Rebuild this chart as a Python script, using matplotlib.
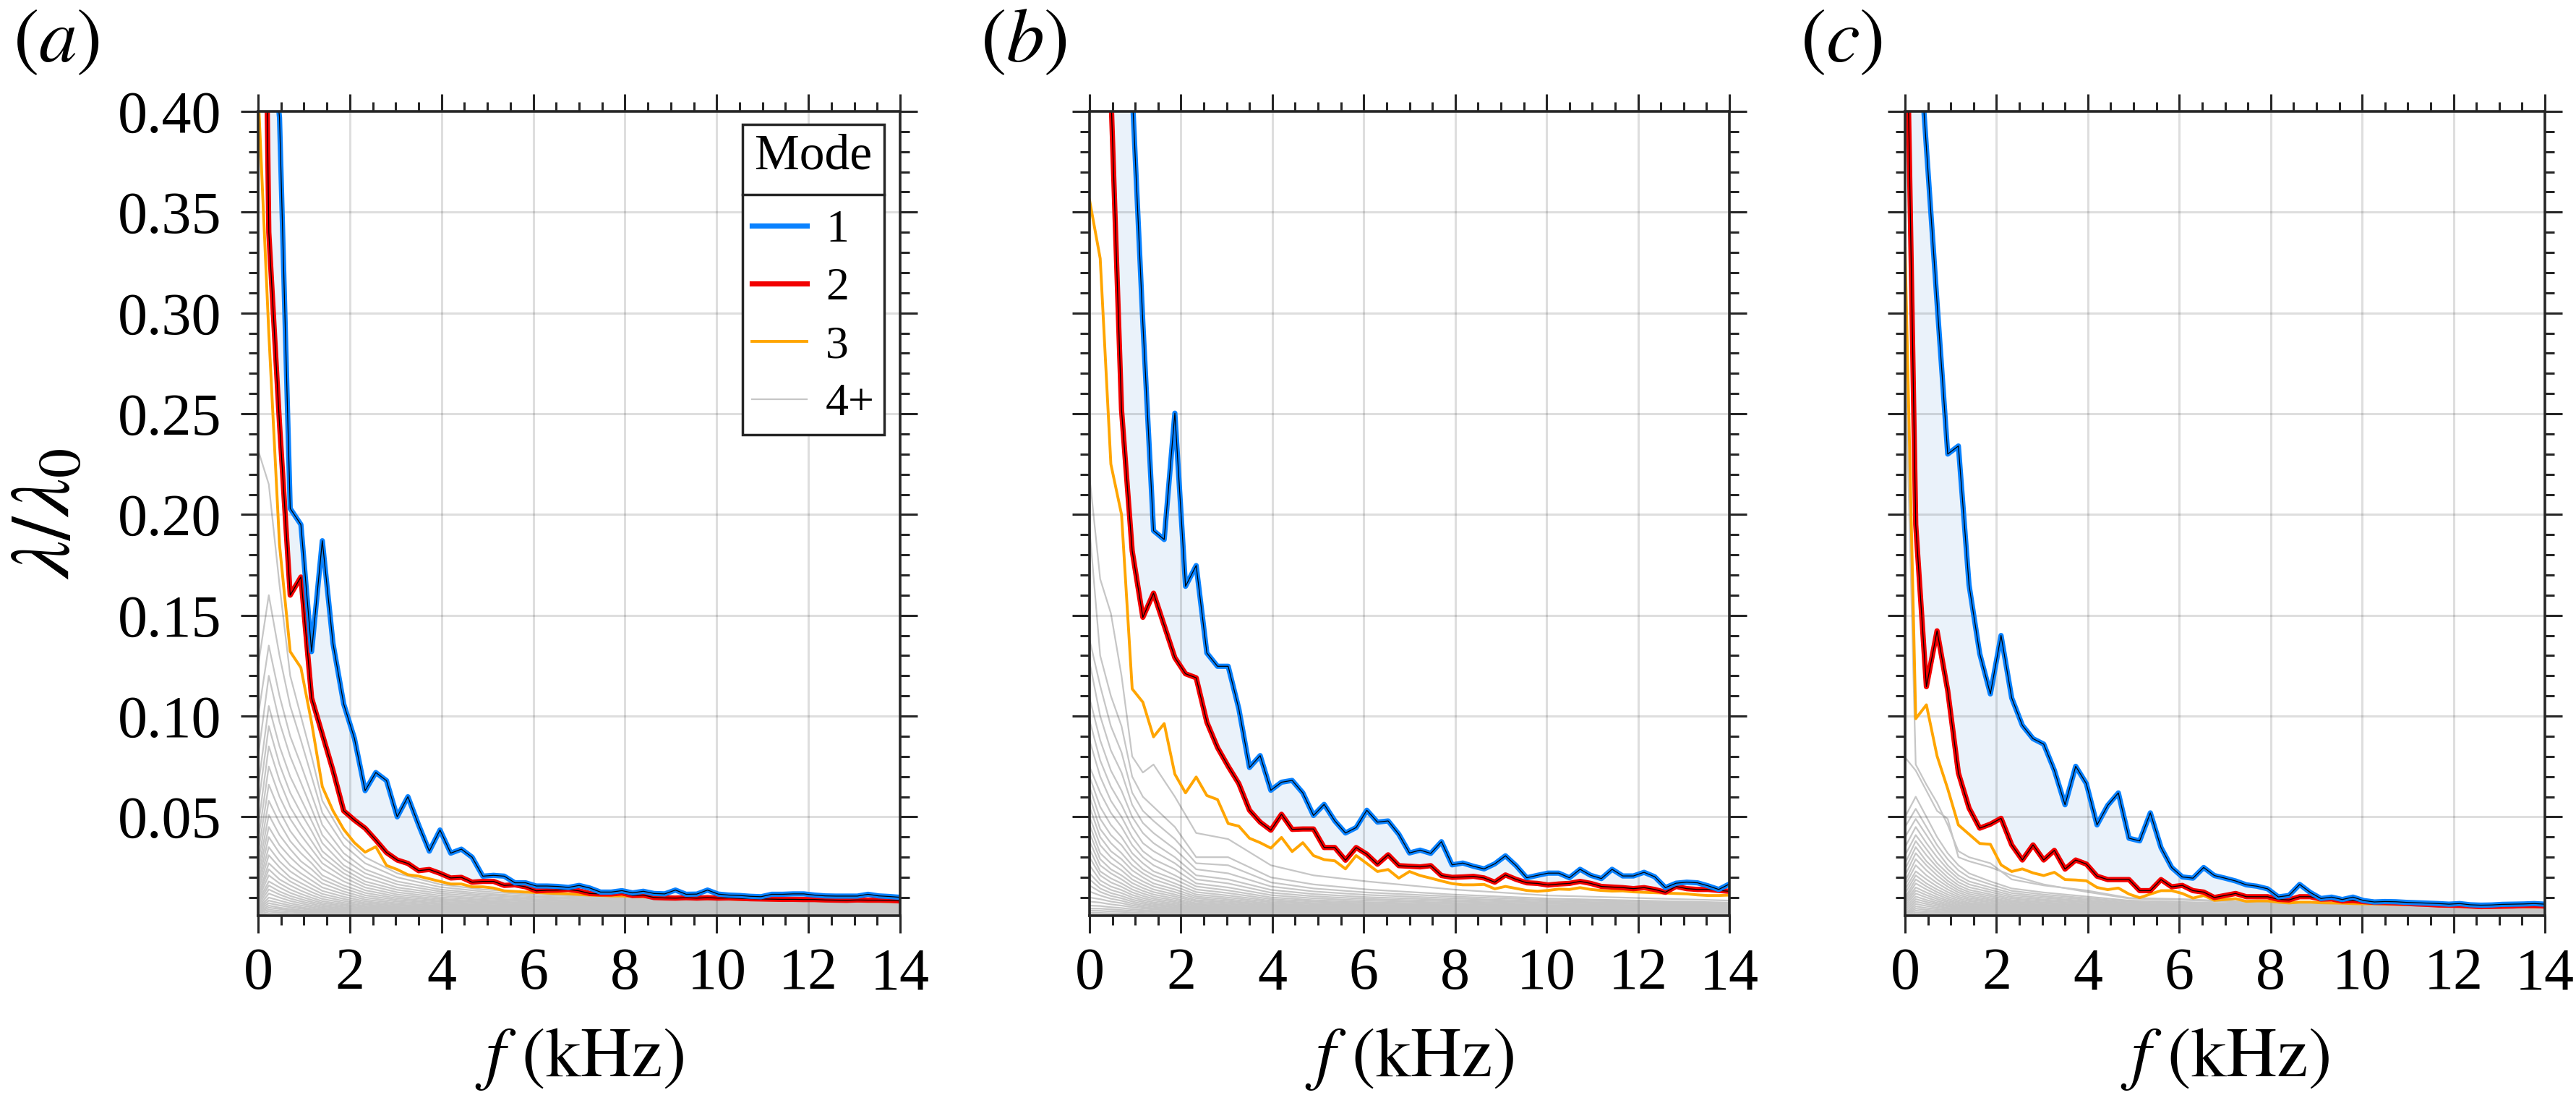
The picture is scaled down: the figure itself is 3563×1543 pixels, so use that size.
import numpy as np
import matplotlib
matplotlib.use('Agg')
import matplotlib.pyplot as plt
from matplotlib.lines import Line2D
from matplotlib.ticker import MultipleLocator, FixedLocator, FormatStrFormatter

plt.rcParams['font.family'] = ['Liberation Serif', 'DejaVu Serif']
plt.rcParams['mathtext.fontset'] = 'stix'

# ---------------- data ----------------
freq = np.linspace(0, 14, 61)  # kHz, 61 spectral bins

mode1_a = [0.90, 0.45, 0.397, 0.203, 0.195, 0.132, 0.187, 0.136, 0.106, 0.089,
           0.063, 0.072, 0.068, 0.050, 0.060, 0.046, 0.033, 0.0435, 0.032, 0.034,
           0.030, 0.0206, 0.021, 0.0206, 0.0173, 0.0173, 0.0157, 0.0157, 0.0155, 0.015,
           0.016, 0.0147, 0.0127, 0.0127, 0.0134, 0.0123, 0.0131, 0.012, 0.0118, 0.0137,
           0.0116, 0.0117, 0.0137, 0.0117, 0.0112, 0.011, 0.0106, 0.0104, 0.0116, 0.0116,
           0.0118, 0.0118, 0.0112, 0.0108, 0.0107, 0.0107, 0.0107, 0.0116, 0.0108, 0.0105, 0.0101]
mode2_a = [0.76, 0.34, 0.245, 0.160, 0.169, 0.109, 0.091, 0.073, 0.053, 0.0484,
           0.0444, 0.0385, 0.0323, 0.0286, 0.0269, 0.0233, 0.0239, 0.022, 0.0197, 0.020,
           0.0176, 0.018, 0.018, 0.016, 0.0163, 0.0153, 0.0133, 0.0136, 0.0137, 0.014,
           0.0133, 0.012, 0.0118, 0.0118, 0.0123, 0.011, 0.0112, 0.0100, 0.0098, 0.0097,
           0.0099, 0.0097, 0.0099, 0.0097, 0.0098, 0.0096, 0.0094, 0.0093, 0.0092, 0.0091,
           0.0091, 0.0090, 0.0090, 0.0088, 0.0087, 0.0086, 0.0088, 0.0087, 0.0087, 0.0086, 0.0083]
mode3_a = [0.41, 0.29, 0.185, 0.132, 0.124, 0.0967, 0.065, 0.053, 0.0438, 0.0372,
           0.0325, 0.0352, 0.0259, 0.0239, 0.0213, 0.0206, 0.0193, 0.018, 0.0167, 0.0167,
           0.0153, 0.0153, 0.0147, 0.0133, 0.013, 0.0127, 0.0125, 0.0122, 0.012, 0.0118,
           0.0115, 0.0112, 0.011, 0.0108, 0.0108, 0.0105, 0.0103, 0.0101, 0.0098, 0.0097,
           0.0095, 0.0094, 0.0093, 0.0093, 0.0092, 0.0091, 0.0090, 0.0089, 0.0088, 0.0087,
           0.0087, 0.0086, 0.0085, 0.0084, 0.0083, 0.0083, 0.0082, 0.0081, 0.0081, 0.0080, 0.0079]

mode1_b = [0.95, 0.80, 0.60, 0.48, 0.41, 0.295, 0.192, 0.1876, 0.2503, 0.1644,
           0.1747, 0.1313, 0.1247, 0.1247, 0.1036, 0.0745, 0.0804, 0.0632, 0.0672, 0.0681,
           0.0619, 0.0507, 0.0562, 0.048, 0.042, 0.0447, 0.0533, 0.0474, 0.048, 0.0414,
           0.0321, 0.0335, 0.0319, 0.0377, 0.0262, 0.0271, 0.0255, 0.0242, 0.0267, 0.0307,
           0.0258, 0.0198, 0.021, 0.0221, 0.0221, 0.0198, 0.024, 0.021, 0.0194, 0.024,
           0.0207, 0.0207, 0.0225, 0.0203, 0.0149, 0.0171, 0.0176, 0.0173, 0.0158, 0.014, 0.0167]
mode2_b = [0.90, 0.60, 0.41, 0.252, 0.182, 0.149, 0.161, 0.145, 0.129, 0.121,
           0.119, 0.097, 0.0844, 0.0751, 0.0665, 0.0533, 0.0474, 0.0434, 0.0513, 0.0438,
           0.044, 0.044, 0.0348, 0.0348, 0.0285, 0.0348, 0.0315, 0.0265, 0.0312, 0.0258,
           0.0255, 0.0252, 0.0258, 0.0209, 0.020, 0.0202, 0.0205, 0.0197, 0.0176, 0.0212,
           0.019, 0.0173, 0.017, 0.0162, 0.0167, 0.017, 0.018, 0.017, 0.0155, 0.0152,
           0.0149, 0.0144, 0.0149, 0.014, 0.0126, 0.0155, 0.0144, 0.014, 0.014, 0.0135, 0.0131]
mode3_b = [0.356, 0.327, 0.225, 0.200, 0.1135, 0.1069, 0.0897, 0.0963, 0.0712, 0.0619,
           0.0698, 0.0606, 0.0586, 0.0467, 0.0454, 0.0394, 0.0372, 0.0345, 0.0398, 0.0328,
           0.0372, 0.0308, 0.0288, 0.0282, 0.0242, 0.0308, 0.0269, 0.0229, 0.0239, 0.0196,
           0.0229, 0.0209, 0.0196, 0.0182, 0.0169, 0.0163, 0.0163, 0.0165, 0.0143, 0.0155,
           0.0145, 0.0135, 0.0131, 0.0135, 0.0142, 0.0140, 0.0149, 0.0140, 0.0135, 0.0132,
           0.0133, 0.0128, 0.0126, 0.0124, 0.0122, 0.0120, 0.0118, 0.0113, 0.0110, 0.0110, 0.0112]

mode1_c = [0.90, 0.46, 0.382, 0.305, 0.230, 0.234, 0.165, 0.131, 0.111, 0.140,
           0.109, 0.0954, 0.0888, 0.0861, 0.0731, 0.056, 0.0751, 0.0665, 0.046, 0.0557,
           0.0619, 0.0394, 0.0381, 0.052, 0.0348, 0.0249, 0.0202, 0.0196, 0.0249, 0.0209,
           0.0196, 0.0182, 0.0163, 0.0156, 0.0143, 0.0103, 0.011, 0.0165, 0.0125, 0.0095,
           0.0102, 0.0090, 0.0102, 0.0085, 0.0078, 0.0080, 0.0079, 0.0076, 0.0074, 0.0072,
           0.0070, 0.0067, 0.0070, 0.0064, 0.0062, 0.0063, 0.0066, 0.0067, 0.0068, 0.0070, 0.0067]
mode2_c = [0.50, 0.195, 0.1146, 0.1423, 0.1126, 0.0718, 0.0544, 0.0444, 0.0464, 0.0493,
           0.0361, 0.0286, 0.0361, 0.0286, 0.0334, 0.0241, 0.0286, 0.0266, 0.0206, 0.0189,
           0.0189, 0.0189, 0.0134, 0.0134, 0.0189, 0.0153, 0.016, 0.0134, 0.0127, 0.0100,
           0.011, 0.012, 0.0104, 0.0104, 0.0104, 0.0091, 0.0088, 0.0104, 0.0104, 0.0092,
           0.0093, 0.0083, 0.0085, 0.0080, 0.0076, 0.0075, 0.0073, 0.0071, 0.0068, 0.0066,
           0.0063, 0.0062, 0.0061, 0.0058, 0.0055, 0.0056, 0.0057, 0.0058, 0.0060, 0.0060, 0.0058]
mode3_c = [0.332, 0.0987, 0.1056, 0.0802, 0.0639, 0.046, 0.0414, 0.0368, 0.0364, 0.0262,
           0.0229, 0.0242, 0.0222, 0.0209, 0.0225, 0.0189, 0.0187, 0.0183, 0.015, 0.0139,
           0.0147, 0.0117, 0.0099, 0.0117, 0.0134, 0.0134, 0.012, 0.0097, 0.011, 0.0086,
           0.009, 0.0094, 0.0081, 0.0083, 0.0083, 0.0077, 0.0073, 0.0077, 0.0077, 0.0074,
           0.0073, 0.0072, 0.0070, 0.0069, 0.0068, 0.0067, 0.0066, 0.0065, 0.0064, 0.0063,
           0.0062, 0.0061, 0.0060, 0.0058, 0.0054, 0.0054, 0.0054, 0.0054, 0.0053, 0.0053, 0.0052]

# modes 4+ (read at a subset of the bins)
gray_freq = [0, 0.233, 0.467, 0.7, 0.933, 1.167, 1.4, 1.867, 2.333, 3.033,
             3.967, 4.9, 6.067, 7.933, 10.033, 14.0]

gray_a = [
    [0.232, 0.215, 0.165, 0.120, 0.100, 0.080, 0.058, 0.040, 0.030, 0.022, 0.0165, 0.0140, 0.0122, 0.0105, 0.0090, 0.0075],
    [0.125, 0.160, 0.130, 0.105, 0.088, 0.070, 0.052, 0.036, 0.027, 0.020, 0.0152, 0.0130, 0.0113, 0.0098, 0.0085, 0.0070],
    [0.100, 0.135, 0.110, 0.090, 0.076, 0.061, 0.046, 0.032, 0.024, 0.018, 0.0140, 0.0120, 0.0105, 0.0092, 0.0080, 0.0066],
    [0.080, 0.120, 0.097, 0.080, 0.067, 0.054, 0.041, 0.029, 0.022, 0.0165, 0.0130, 0.0112, 0.0098, 0.0086, 0.0075, 0.0062],
    [0.065, 0.105, 0.085, 0.070, 0.059, 0.048, 0.037, 0.026, 0.020, 0.0150, 0.0120, 0.0104, 0.0091, 0.0080, 0.0070, 0.0058],
    [0.055, 0.095, 0.076, 0.062, 0.052, 0.043, 0.033, 0.024, 0.018, 0.0138, 0.0110, 0.0096, 0.0085, 0.0075, 0.0065, 0.0054],
    [0.045, 0.085, 0.068, 0.055, 0.046, 0.038, 0.030, 0.022, 0.0165, 0.0126, 0.0101, 0.0089, 0.0079, 0.0070, 0.0061, 0.0050],
    [0.038, 0.075, 0.060, 0.049, 0.041, 0.034, 0.027, 0.020, 0.0150, 0.0115, 0.0093, 0.0082, 0.0073, 0.0065, 0.0057, 0.0047],
    [0.032, 0.066, 0.053, 0.043, 0.036, 0.030, 0.024, 0.018, 0.0136, 0.0105, 0.0086, 0.0076, 0.0068, 0.0060, 0.0053, 0.0043],
    [0.027, 0.058, 0.047, 0.038, 0.032, 0.027, 0.021, 0.016, 0.0123, 0.0096, 0.0079, 0.0070, 0.0063, 0.0056, 0.0049, 0.0040],
    [0.023, 0.051, 0.041, 0.034, 0.028, 0.024, 0.019, 0.0145, 0.0111, 0.0088, 0.0072, 0.0064, 0.0058, 0.0052, 0.0045, 0.0037],
    [0.020, 0.045, 0.036, 0.030, 0.025, 0.021, 0.017, 0.013, 0.0100, 0.0080, 0.0066, 0.0059, 0.0053, 0.0048, 0.0042, 0.0034],
    [0.017, 0.040, 0.032, 0.026, 0.022, 0.0185, 0.015, 0.0117, 0.0090, 0.0072, 0.0060, 0.0054, 0.0049, 0.0044, 0.0038, 0.0031],
    [0.015, 0.035, 0.028, 0.023, 0.0195, 0.0163, 0.0133, 0.0104, 0.0081, 0.0065, 0.0055, 0.0049, 0.0045, 0.0040, 0.0035, 0.0028],
    [0.013, 0.031, 0.025, 0.020, 0.0172, 0.0144, 0.0118, 0.0093, 0.0073, 0.0059, 0.0050, 0.0045, 0.0041, 0.0037, 0.0032, 0.0026],
    [0.011, 0.027, 0.022, 0.018, 0.0152, 0.0127, 0.0105, 0.0083, 0.0066, 0.0053, 0.0045, 0.0041, 0.0037, 0.0034, 0.0029, 0.0023],
    [0.010, 0.024, 0.019, 0.016, 0.0134, 0.0112, 0.0093, 0.0074, 0.0059, 0.0048, 0.0041, 0.0037, 0.0034, 0.0031, 0.0027, 0.0021],
    [0.009, 0.021, 0.017, 0.014, 0.0118, 0.0099, 0.0082, 0.0066, 0.0053, 0.0043, 0.0037, 0.0034, 0.0031, 0.0028, 0.0024, 0.0019],
    [0.008, 0.018, 0.015, 0.0123, 0.0104, 0.0088, 0.0073, 0.0059, 0.0047, 0.0039, 0.0033, 0.0030, 0.0028, 0.0025, 0.0022, 0.0017],
    [0.007, 0.016, 0.013, 0.0108, 0.0092, 0.0078, 0.0065, 0.0052, 0.0042, 0.0035, 0.0030, 0.0027, 0.0025, 0.0023, 0.0020, 0.0015],
    [0.006, 0.014, 0.0115, 0.0095, 0.0081, 0.0069, 0.0057, 0.0046, 0.0037, 0.0031, 0.0027, 0.0024, 0.0022, 0.0020, 0.0018, 0.0013],
    [0.005, 0.012, 0.0100, 0.0083, 0.0071, 0.0060, 0.0050, 0.0040, 0.0033, 0.0027, 0.0024, 0.0021, 0.0019, 0.0018, 0.0016, 0.0011],
    [0.0045, 0.010, 0.0085, 0.0071, 0.0061, 0.0052, 0.0043, 0.0035, 0.0029, 0.0024, 0.0021, 0.0019, 0.0017, 0.0016, 0.0014, 0.0010],
    [0.004, 0.0085, 0.0072, 0.0061, 0.0052, 0.0044, 0.0037, 0.0030, 0.0025, 0.0021, 0.0018, 0.0016, 0.0015, 0.0014, 0.0012, 0.0009],
    [0.0035, 0.0072, 0.0061, 0.0052, 0.0045, 0.0038, 0.0032, 0.0026, 0.0022, 0.0019, 0.0016, 0.0015, 0.0014, 0.0013, 0.0011, 0.0009],
    [0.003, 0.0060, 0.0050, 0.0043, 0.0037, 0.0032, 0.0027, 0.0022, 0.0019, 0.0016, 0.0014, 0.0013, 0.0012, 0.0011, 0.0010, 0.0008],
    [0.0025, 0.0050, 0.0043, 0.0037, 0.0032, 0.0028, 0.0024, 0.0020, 0.0017, 0.0014, 0.0013, 0.0012, 0.0011, 0.0010, 0.0009, 0.0007],
    [0.002, 0.0040, 0.0034, 0.0030, 0.0026, 0.0023, 0.0020, 0.0017, 0.0014, 0.0012, 0.0011, 0.0010, 0.0009, 0.0009, 0.0008, 0.0006],
    [0.0015, 0.0030, 0.0026, 0.0023, 0.0020, 0.0018, 0.0016, 0.0014, 0.0012, 0.0011, 0.0010, 0.0009, 0.0009, 0.0008, 0.0007, 0.0006],
    [0.0012, 0.0020, 0.0018, 0.0016, 0.0015, 0.0014, 0.0013, 0.0012, 0.0011, 0.0010, 0.0009, 0.0008, 0.0008, 0.0007, 0.0007, 0.0006],
]

gray_b = [
    [0.219, 0.168, 0.151, 0.120, 0.080, 0.072, 0.076, 0.060, 0.042, 0.039, 0.026, 0.021, 0.018, 0.014, 0.011, 0.0085],
    [0.193, 0.130, 0.110, 0.095, 0.070, 0.060, 0.055, 0.045, 0.030, 0.030, 0.020, 0.0165, 0.014, 0.0115, 0.0095, 0.0075],
    [0.138, 0.115, 0.095, 0.082, 0.062, 0.053, 0.048, 0.039, 0.027, 0.026, 0.0175, 0.0145, 0.0125, 0.0105, 0.0088, 0.0070],
    [0.127, 0.100, 0.083, 0.072, 0.056, 0.047, 0.042, 0.034, 0.024, 0.022, 0.0155, 0.0130, 0.0113, 0.0096, 0.0081, 0.0065],
    [0.109, 0.088, 0.073, 0.063, 0.050, 0.042, 0.037, 0.030, 0.021, 0.019, 0.0138, 0.0117, 0.0102, 0.0088, 0.0075, 0.0060],
    [0.098, 0.078, 0.065, 0.056, 0.045, 0.037, 0.033, 0.027, 0.019, 0.017, 0.0124, 0.0106, 0.0093, 0.0081, 0.0069, 0.0055],
    [0.088, 0.070, 0.058, 0.050, 0.040, 0.033, 0.029, 0.024, 0.017, 0.015, 0.0112, 0.0096, 0.0085, 0.0074, 0.0063, 0.0051],
    [0.075, 0.062, 0.052, 0.045, 0.036, 0.030, 0.026, 0.021, 0.0155, 0.0135, 0.0101, 0.0087, 0.0077, 0.0068, 0.0058, 0.0047],
    [0.070, 0.055, 0.046, 0.040, 0.032, 0.027, 0.023, 0.019, 0.014, 0.0122, 0.0092, 0.0080, 0.0071, 0.0062, 0.0053, 0.0043],
    [0.065, 0.049, 0.041, 0.036, 0.029, 0.024, 0.021, 0.017, 0.0127, 0.0110, 0.0084, 0.0073, 0.0065, 0.0057, 0.0049, 0.0040],
    [0.060, 0.044, 0.037, 0.032, 0.026, 0.022, 0.019, 0.0155, 0.0115, 0.0100, 0.0077, 0.0067, 0.0060, 0.0053, 0.0045, 0.0037],
    [0.055, 0.040, 0.033, 0.029, 0.0235, 0.020, 0.017, 0.014, 0.0105, 0.0091, 0.0070, 0.0061, 0.0055, 0.0049, 0.0042, 0.0034],
    [0.050, 0.036, 0.030, 0.026, 0.021, 0.018, 0.0155, 0.0127, 0.0096, 0.0083, 0.0064, 0.0056, 0.0050, 0.0045, 0.0039, 0.0031],
    [0.046, 0.032, 0.027, 0.0235, 0.019, 0.0163, 0.0140, 0.0115, 0.0087, 0.0076, 0.0059, 0.0052, 0.0046, 0.0041, 0.0036, 0.0028],
    [0.042, 0.029, 0.024, 0.021, 0.0172, 0.0147, 0.0127, 0.0105, 0.0080, 0.0069, 0.0054, 0.0047, 0.0042, 0.0038, 0.0033, 0.0026],
    [0.038, 0.026, 0.022, 0.019, 0.0155, 0.0133, 0.0115, 0.0095, 0.0072, 0.0063, 0.0049, 0.0043, 0.0039, 0.0035, 0.0030, 0.0024],
    [0.034, 0.023, 0.0195, 0.017, 0.0140, 0.0120, 0.0104, 0.0086, 0.0066, 0.0057, 0.0045, 0.0040, 0.0036, 0.0032, 0.0028, 0.0022],
    [0.030, 0.021, 0.0175, 0.0153, 0.0126, 0.0108, 0.0094, 0.0078, 0.0060, 0.0052, 0.0041, 0.0036, 0.0033, 0.0029, 0.0025, 0.0020],
    [0.026, 0.0185, 0.0155, 0.0137, 0.0113, 0.0097, 0.0085, 0.0070, 0.0054, 0.0047, 0.0037, 0.0033, 0.0030, 0.0027, 0.0023, 0.0018],
    [0.022, 0.0165, 0.0138, 0.0122, 0.0101, 0.0087, 0.0076, 0.0063, 0.0049, 0.0043, 0.0034, 0.0030, 0.0027, 0.0024, 0.0021, 0.0016],
    [0.019, 0.0145, 0.0122, 0.0108, 0.0090, 0.0078, 0.0068, 0.0057, 0.0044, 0.0039, 0.0031, 0.0027, 0.0025, 0.0022, 0.0019, 0.0015],
    [0.016, 0.0128, 0.0108, 0.0096, 0.0080, 0.0069, 0.0061, 0.0051, 0.0040, 0.0035, 0.0028, 0.0025, 0.0022, 0.0020, 0.0017, 0.0013],
    [0.013, 0.0110, 0.0094, 0.0084, 0.0070, 0.0061, 0.0054, 0.0045, 0.0036, 0.0031, 0.0025, 0.0022, 0.0020, 0.0018, 0.0016, 0.0012],
    [0.010, 0.0092, 0.0080, 0.0072, 0.0061, 0.0053, 0.0047, 0.0040, 0.0032, 0.0028, 0.0022, 0.0020, 0.0018, 0.0016, 0.0014, 0.0011],
    [0.008, 0.0075, 0.0066, 0.0060, 0.0052, 0.0046, 0.0041, 0.0035, 0.0028, 0.0024, 0.0020, 0.0018, 0.0016, 0.0014, 0.0012, 0.0009],
    [0.006, 0.0058, 0.0052, 0.0048, 0.0042, 0.0038, 0.0034, 0.0029, 0.0024, 0.0021, 0.0017, 0.0015, 0.0014, 0.0012, 0.0010, 0.0008],
    [0.0045, 0.0045, 0.0041, 0.0038, 0.0034, 0.0031, 0.0028, 0.0024, 0.0020, 0.0018, 0.0015, 0.0013, 0.0012, 0.0011, 0.0009, 0.0007],
    [0.0035, 0.0034, 0.0031, 0.0029, 0.0026, 0.0024, 0.0022, 0.0019, 0.0016, 0.0015, 0.0013, 0.0012, 0.0011, 0.0010, 0.0008, 0.0007],
    [0.0025, 0.0024, 0.0022, 0.0021, 0.0019, 0.0018, 0.0017, 0.0015, 0.0013, 0.0012, 0.0011, 0.0010, 0.0009, 0.0008, 0.0007, 0.0006],
    [0.0016, 0.0015, 0.0014, 0.0014, 0.0013, 0.0013, 0.0012, 0.0011, 0.0010, 0.0009, 0.0009, 0.0008, 0.0008, 0.0007, 0.0006, 0.0005],
]

gray_c = [
    [0.280, 0.076, 0.066, 0.057, 0.046, 0.033, 0.030, 0.027, 0.019, 0.0160, 0.0135, 0.0098, 0.0092, 0.0074, 0.0063, 0.0049],
    [0.0795, 0.073, 0.063, 0.053, 0.049, 0.030, 0.028, 0.025, 0.021, 0.0165, 0.0128, 0.0095, 0.0088, 0.0071, 0.0061, 0.0048],
    [0.050, 0.060, 0.050, 0.040, 0.032, 0.026, 0.022, 0.018, 0.0145, 0.0125, 0.0105, 0.0085, 0.0078, 0.0066, 0.0058, 0.0046],
    [0.045, 0.054, 0.045, 0.036, 0.029, 0.0235, 0.020, 0.0165, 0.0133, 0.0115, 0.0097, 0.0079, 0.0072, 0.0061, 0.0054, 0.0043],
    [0.040, 0.049, 0.041, 0.033, 0.026, 0.021, 0.018, 0.0150, 0.0122, 0.0106, 0.0090, 0.0073, 0.0066, 0.0057, 0.0051, 0.0041],
    [0.035, 0.045, 0.037, 0.030, 0.024, 0.0193, 0.0165, 0.0138, 0.0112, 0.0098, 0.0083, 0.0068, 0.0061, 0.0053, 0.0048, 0.0039],
    [0.031, 0.041, 0.034, 0.027, 0.022, 0.0176, 0.0151, 0.0127, 0.0103, 0.0090, 0.0077, 0.0063, 0.0057, 0.0050, 0.0045, 0.0037],
    [0.027, 0.038, 0.031, 0.025, 0.020, 0.0161, 0.0138, 0.0116, 0.0095, 0.0083, 0.0071, 0.0058, 0.0053, 0.0047, 0.0042, 0.0035],
    [0.024, 0.035, 0.028, 0.023, 0.0183, 0.0148, 0.0127, 0.0107, 0.0087, 0.0076, 0.0065, 0.0054, 0.0049, 0.0044, 0.0039, 0.0033],
    [0.021, 0.032, 0.026, 0.021, 0.0168, 0.0136, 0.0117, 0.0098, 0.0080, 0.0070, 0.0060, 0.0050, 0.0045, 0.0041, 0.0036, 0.0031],
    [0.018, 0.029, 0.0235, 0.019, 0.0154, 0.0125, 0.0107, 0.0090, 0.0074, 0.0064, 0.0055, 0.0046, 0.0042, 0.0038, 0.0033, 0.0029],
    [0.016, 0.026, 0.021, 0.0172, 0.0140, 0.0114, 0.0098, 0.0083, 0.0068, 0.0059, 0.0051, 0.0042, 0.0039, 0.0035, 0.0031, 0.0027],
    [0.014, 0.023, 0.019, 0.0155, 0.0127, 0.0104, 0.0090, 0.0076, 0.0062, 0.0054, 0.0047, 0.0039, 0.0036, 0.0032, 0.0029, 0.0025],
    [0.012, 0.021, 0.017, 0.0140, 0.0115, 0.0095, 0.0082, 0.0069, 0.0057, 0.0050, 0.0043, 0.0036, 0.0033, 0.0030, 0.0027, 0.0023],
    [0.010, 0.019, 0.0155, 0.0127, 0.0104, 0.0086, 0.0074, 0.0063, 0.0052, 0.0046, 0.0040, 0.0033, 0.0030, 0.0028, 0.0025, 0.0021],
    [0.009, 0.017, 0.0140, 0.0115, 0.0094, 0.0078, 0.0068, 0.0058, 0.0048, 0.0042, 0.0036, 0.0030, 0.0028, 0.0026, 0.0023, 0.0019],
    [0.008, 0.015, 0.0125, 0.0103, 0.0085, 0.0071, 0.0062, 0.0053, 0.0044, 0.0038, 0.0033, 0.0028, 0.0026, 0.0024, 0.0021, 0.0017],
    [0.007, 0.0135, 0.0112, 0.0093, 0.0077, 0.0064, 0.0056, 0.0048, 0.0040, 0.0035, 0.0030, 0.0026, 0.0024, 0.0022, 0.0019, 0.0016],
    [0.006, 0.012, 0.0100, 0.0083, 0.0069, 0.0058, 0.0051, 0.0044, 0.0036, 0.0032, 0.0028, 0.0024, 0.0022, 0.0020, 0.0018, 0.0015],
    [0.005, 0.0105, 0.0088, 0.0074, 0.0062, 0.0052, 0.0046, 0.0040, 0.0033, 0.0029, 0.0025, 0.0022, 0.0020, 0.0018, 0.0016, 0.0014],
    [0.004, 0.0092, 0.0078, 0.0066, 0.0056, 0.0047, 0.0041, 0.0036, 0.0030, 0.0026, 0.0023, 0.0020, 0.0018, 0.0016, 0.0015, 0.0013],
    [0.003, 0.0080, 0.0068, 0.0058, 0.0049, 0.0042, 0.0037, 0.0032, 0.0027, 0.0024, 0.0021, 0.0018, 0.0016, 0.0015, 0.0014, 0.0012],
    [0.002, 0.0068, 0.0058, 0.0050, 0.0043, 0.0037, 0.0033, 0.0029, 0.0024, 0.0021, 0.0019, 0.0016, 0.0015, 0.0014, 0.0013, 0.0011],
    [0.0015, 0.0056, 0.0048, 0.0042, 0.0037, 0.0032, 0.0029, 0.0025, 0.0021, 0.0019, 0.0017, 0.0015, 0.0014, 0.0013, 0.0012, 0.0010],
    [0.0013, 0.0045, 0.0039, 0.0035, 0.0031, 0.0027, 0.0025, 0.0022, 0.0019, 0.0017, 0.0015, 0.0013, 0.0012, 0.0011, 0.0010, 0.0009],
    [0.0012, 0.0035, 0.0031, 0.0028, 0.0025, 0.0023, 0.0021, 0.0019, 0.0016, 0.0015, 0.0013, 0.0012, 0.0011, 0.0010, 0.0009, 0.0008],
    [0.0011, 0.0026, 0.0024, 0.0022, 0.0020, 0.0018, 0.0017, 0.0016, 0.0014, 0.0013, 0.0012, 0.0011, 0.0010, 0.0009, 0.0008, 0.0007],
    [0.0010, 0.0018, 0.0017, 0.0016, 0.0015, 0.0014, 0.0013, 0.0012, 0.0011, 0.0010, 0.0010, 0.0009, 0.0008, 0.0008, 0.0007, 0.0006],
]

panel_labels = ['a', 'b', 'c']
legend_labels = ['1', '2', '3', '4+']
ytick_vals = [0.05, 0.10, 0.15, 0.20, 0.25, 0.30, 0.35, 0.40]
xtick_vals = [0, 2, 4, 6, 8, 10, 12, 14]

# ---------------- style ----------------
C_BLUE = '#0a82ff'
C_RED = '#f20000'
C_ORANGE = '#ffa500'
C_GRAY = '#c6c6c6'
C_FILL = '#eaf2fa'
C_AX = '#262626'

W, H = 3563, 1543
fig = plt.figure(figsize=(W / 100, H / 100), dpi=100)
fig.patch.set_facecolor('white')

axes_px = [(357, 888), (1507, 885), (2635, 885)]
top_px, bot_px = 154, 1266
panel_label_x = [18, 1356, 2490]

data = [
    (mode1_a, mode2_a, mode3_a, gray_a),
    (mode1_b, mode2_b, mode3_b, gray_b),
    (mode1_c, mode2_c, mode3_c, gray_c),
]

axes = []
for i, ((l, w), (m1, m2, m3, gr)) in enumerate(zip(axes_px, data)):
    ax = fig.add_axes([l / W, (H - bot_px) / H, w / W, (bot_px - top_px) / H])
    axes.append(ax)
    ax.fill_between(freq, m1, m2, color=C_FILL, lw=0, zorder=1)
    gl = None
    for row in gr:
        gl, = ax.plot(gray_freq, row, color=C_GRAY, lw=1.6, zorder=2)
    ax.grid(True, which='major', color='k', alpha=0.13, lw=2.2, zorder=2.5)
    l3, = ax.plot(freq, m3, color=C_ORANGE, lw=2.8, zorder=3)
    l2, = ax.plot(freq, m2, color=C_RED, lw=5.2, zorder=4)
    ax.plot(freq, m2, color='k', lw=0.9, zorder=4.1)
    l1, = ax.plot(freq, m1, color=C_BLUE, lw=5.2, zorder=5)
    ax.plot(freq, m1, color='k', lw=0.9, zorder=5.1)
    ax.set_axisbelow(False)

    ax.set_xlim(0, 14)
    ax.set_ylim(0.001, 0.40)
    ax.xaxis.set_major_locator(FixedLocator(xtick_vals))
    ax.xaxis.set_minor_locator(MultipleLocator(0.5))
    ax.yaxis.set_major_locator(FixedLocator(ytick_vals))
    ax.yaxis.set_minor_locator(MultipleLocator(0.01))
    ax.yaxis.set_major_formatter(FormatStrFormatter('%.2f'))
    ax.tick_params(which='both', direction='out', top=True, right=True,
                   labeltop=False, labelright=False, color=C_AX, width=2.2)
    ax.tick_params(which='major', length=17.5, labelsize=59)
    ax.tick_params(which='minor', length=9.5)
    ax.tick_params(axis='x', which='major', pad=14)
    ax.tick_params(axis='y', which='major', pad=19)
    if i > 0:
        ax.tick_params(labelleft=False)
    for s in ax.spines.values():
        s.set_color(C_AX)
        s.set_linewidth(2.6)
        s.set_zorder(10)
    ax.set_xlabel(r'$f\ (\mathrm{kHz})$', fontsize=70, labelpad=24)
    fig.text(panel_label_x[i] / W, 1 - 60 / H,
             r'$(\mathit{' + panel_labels[i] + r'})$',
             fontsize=76, ha='left', va='center')
    if i == 0:
        handles = [l1, l2, l3, gl]

fig.text(68 / W, 1 - 710 / H, r'$\lambda/\lambda_0$', fontsize=84, rotation=90,
         ha='center', va='center')

ax0 = axes[0]
leg = ax0.legend(handles, legend_labels, title='Mode', loc='upper right',
                 bbox_to_anchor=(0.975, 0.984), borderaxespad=0, frameon=True,
                 fancybox=False, edgecolor=C_AX, framealpha=1, fontsize=46,
                 title_fontsize=50, handlelength=1.2, handletextpad=0.4,
                 labelspacing=0.33, borderpad=0.2)
leg.get_frame().set_linewidth(2.5)
leg.set_zorder(30)
leg._legend_box.sep = 30

fig.canvas.draw()
r = fig.canvas.get_renderer()
fb = leg.get_frame().get_window_extent(r)
tb = leg.get_title().get_window_extent(r)
t0 = leg.get_texts()[0].get_window_extent(r)
ysep = (tb.y0 + t0.y1) / 2
fig.add_artist(Line2D([fb.x0 / W, fb.x1 / W], [ysep / H, ysep / H],
                      transform=fig.transFigure, color=C_AX, lw=2.5, zorder=40))

fig.savefig('out.png', dpi=100, facecolor='white')
